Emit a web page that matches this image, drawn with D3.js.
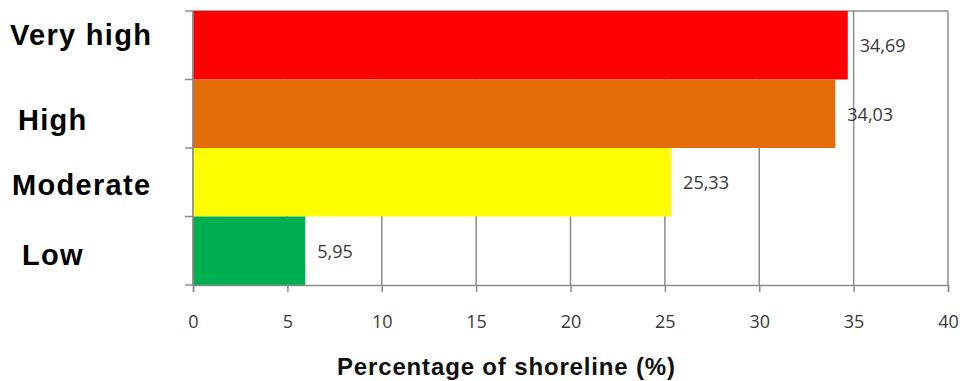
<!DOCTYPE html>
<html>
<head>
<meta charset="utf-8">
<script src="https://cdn.jsdelivr.net/npm/d3@7/dist/d3.min.js"></script>
<style>
  html, body { margin: 0; padding: 0; background: #fff; }
  svg { display: block; }
</style>
</head>
<body>
<svg id="chart" width="960" height="381"></svg>
<script>
// Shoreline vulnerability classes and their share of the shoreline
const categories = ["Very high", "High", "Moderate", "Low"];
const values = [34.69, 34.03, 25.33, 5.95];
const valueLabels = ["34,69", "34,03", "25,33", "5,95"];
const barColors = ["#ff0000", "#e36c0a", "#ffff00", "#00b050"];
const xTicks = [0, 5, 10, 15, 20, 25, 30, 35, 40];
const axisTitle = "Percentage of shoreline (%)";

const svg = d3.select("#chart");
const plot = { left: 193, right: 948, top: 11, bottom: 285 };

const x = d3.scaleLinear().domain([0, 40]).range([plot.left, plot.right]);
const y = d3.scaleBand().domain(categories).range([plot.top, plot.bottom]).padding(0);

const gridColor = "#8c8c8c";

// vertical gridlines
svg.append("g")
  .selectAll("line")
  .data(xTicks)
  .join("line")
  .attr("x1", d => x(d)).attr("x2", d => x(d))
  .attr("y1", plot.top).attr("y2", plot.bottom)
  .attr("stroke", gridColor).attr("stroke-width", 1.5);

// top border of plot area
svg.append("line")
  .attr("x1", plot.left).attr("x2", plot.right)
  .attr("y1", plot.top).attr("y2", plot.top)
  .attr("stroke", gridColor).attr("stroke-width", 1.5);

// bars
svg.append("g")
  .selectAll("rect")
  .data(categories)
  .join("rect")
  .attr("x", x(0))
  .attr("y", d => y(d))
  .attr("width", (d, i) => x(values[i]) - x(0))
  .attr("height", y.bandwidth())
  .attr("fill", (d, i) => barColors[i]);

// x axis
const xAxis = svg.append("g")
  .attr("transform", `translate(0,${plot.bottom})`)
  .call(d3.axisBottom(x).tickValues(xTicks).tickSize(7).tickPadding(23).tickFormat(d3.format("d")));
xAxis.select(".domain").attr("stroke", gridColor).attr("stroke-width", 1.5);
xAxis.selectAll(".tick line").attr("stroke", gridColor).attr("stroke-width", 1.5);
xAxis.selectAll(".tick text")
  .attr("fill", "#383838")
  .style("font-family", "'Open Sans', sans-serif")
  .style("font-size", "18px");

// y axis: ticks on band boundaries
const yAxisG = svg.append("g");
yAxisG.append("line")
  .attr("x1", plot.left).attr("x2", plot.left)
  .attr("y1", plot.top).attr("y2", plot.bottom)
  .attr("stroke", gridColor).attr("stroke-width", 1.5);
const boundaries = categories.map(c => y(c)).concat([plot.bottom]);
yAxisG.selectAll("line.tick")
  .data(boundaries)
  .join("line")
  .attr("class", "tick")
  .attr("x1", plot.left - 8).attr("x2", plot.left)
  .attr("y1", d => d).attr("y2", d => d)
  .attr("stroke", gridColor).attr("stroke-width", 1.5);

// category labels
const labelPlace = {
  "Very high": { x: 10, dy: 0 },
  "High": { x: 18, dy: 16 },
  "Moderate": { x: 12, dy: 13 },
  "Low": { x: 22, dy: 14 }
};
svg.append("g")
  .selectAll("text")
  .data(categories)
  .join("text")
  .attr("x", d => labelPlace[d].x)
  .attr("y", d => y(d) + y.bandwidth() / 2 + labelPlace[d].dy)
  .attr("fill", "#000")
  .style("font-family", "'Liberation Sans', Arial, sans-serif")
  .style("font-weight", "bold")
  .style("font-size", "29px")
  .style("letter-spacing", "1.3px")
  .text(d => d);

// value labels
svg.append("g")
  .selectAll("text")
  .data(categories)
  .join("text")
  .attr("x", (d, i) => x(values[i]) + 12)
  .attr("y", d => y(d) + y.bandwidth() / 2 + 7)
  .attr("fill", "#383838")
  .style("font-family", "'Open Sans', sans-serif")
  .style("font-size", "18px")
  .text((d, i) => valueLabels[i]);

// axis title
svg.append("text")
  .attr("x", 337)
  .attr("y", 375)
  .attr("fill", "#111")
  .style("font-family", "'Liberation Sans', Arial, sans-serif")
  .style("font-weight", "bold")
  .style("font-size", "24px")
  .attr("textLength", 338)
  .attr("lengthAdjust", "spacing")
  .text(axisTitle);
</script>
</body>
</html>
